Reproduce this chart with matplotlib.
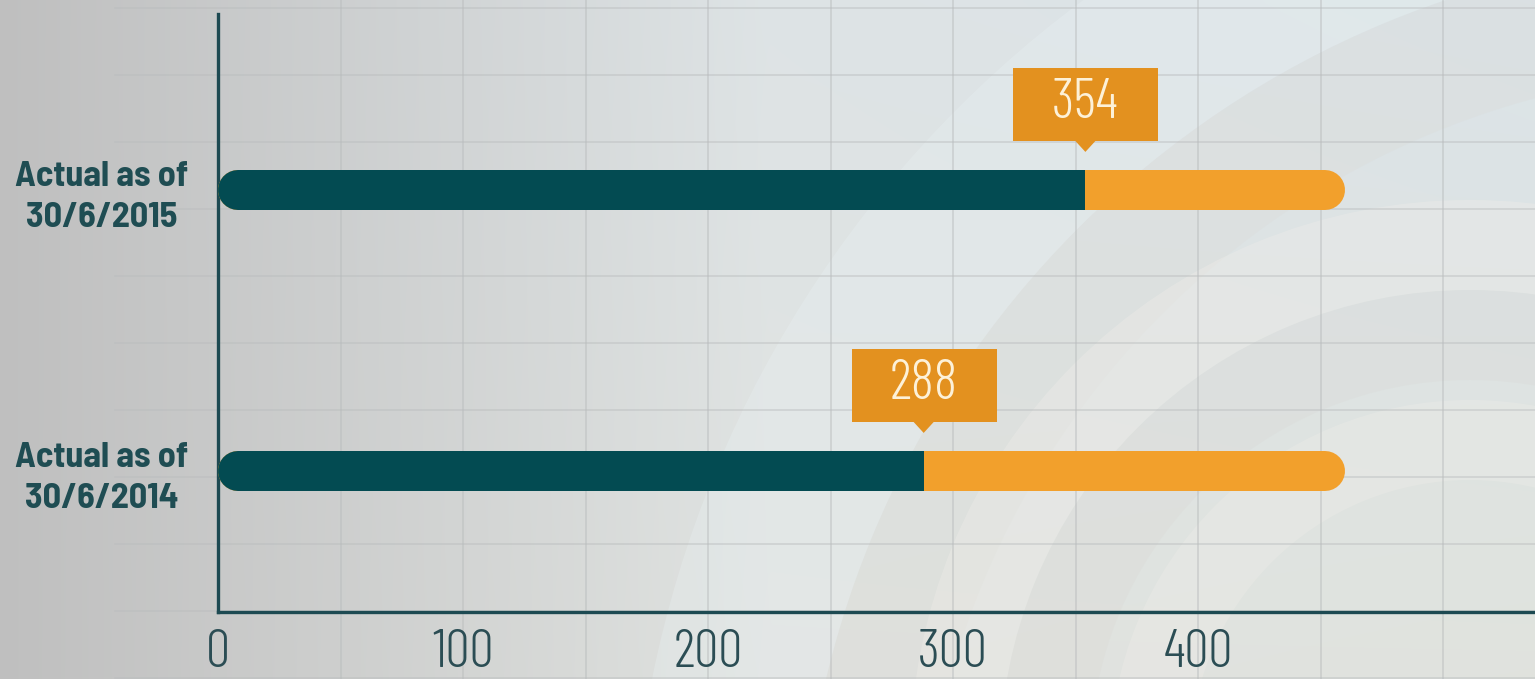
import numpy as np
import matplotlib.pyplot as plt
from matplotlib.patches import Rectangle, Polygon, Wedge
from matplotlib.transforms import Affine2D, ScaledTranslation

# rows, top to bottom
labels = ['Actual as of\n30/6/2015', 'Actual as of\n30/6/2014']
rows = [1, 0]
actual = [354, 288]
target = [460, 460]
xticks = [0, 100, 200, 300, 400]

teal = '#034b52'
orange = '#f2a02c'
box_orange = '#e3911f'
ink = '#1f4d53'
light_font = ['Barlow Condensed', 'DejaVu Sans']
bold_font = ['Barlow Semi Condensed', 'DejaVu Sans']

W, H = 1535, 679
fig = plt.figure(figsize=(W / 100, H / 100), dpi=100)

############ background: soft gray gradient with pale arcs ############
bg = fig.add_axes([0, 0, 1, 1], zorder=0)
bg.set_xlim(0, W)
bg.set_ylim(H, 0)
bg.axis('off')

gx, gy = np.meshgrid(np.linspace(0, 1, 400), np.linspace(0, 1, 200))
t = np.clip(gx / 0.5, 0, 1)
r = 0.75 + (0.88 - 0.75) * t - 0.02 * gx * (1 - gy)
g = 0.75 + (0.89 - 0.75) * t + 0.005 * gx * (1 - gy)
b = 0.75 + (0.89 - 0.75) * t + 0.02 * gx * (1 - gy) - 0.02 * gx * gy
bg.imshow(np.dstack([r, g, b]).clip(0, 1), extent=[0, W, H, 0], aspect='auto',
          interpolation='bicubic')

# big decorative rings
bg.add_patch(Wedge((1750, 900), 1120, 0, 360, width=170, color='#eaf2f4', alpha=0.3, lw=0))
bg.add_patch(Wedge((1750, 900), 950, 0, 360, width=120, color='#d8d4d0', alpha=0.2, lw=0))
bg.add_patch(Wedge((1470, 760), 560, 0, 360, width=90, color='#f1eeea', alpha=0.35, lw=0))
bg.add_patch(Wedge((1470, 760), 360, 0, 360, width=80, color='#f1eeea', alpha=0.3, lw=0))
bg.add_patch(Wedge((1470, 760), 470, 0, 360, width=90, color='#d6d3cf', alpha=0.2, lw=0))

# faint horizontal grid
for yy in range(8, H, 67):
    bg.plot([115, W], [yy, yy], color='#b9bcbd', lw=1.2, alpha=0.5)

############################ main chart ###############################
ax = fig.add_axes([218 / W, 67 / H, 1 - 218 / W, (612 - 14) / H], zorder=1)
ax.patch.set_alpha(0)
ax.set_xlim(0, 537.5)
ax.set_ylim(-0.502, 1.626)

for s in ['top', 'right']:
    ax.spines[s].set_visible(False)
for s in ['left', 'bottom']:
    ax.spines[s].set_color('#1d4a52')
    ax.spines[s].set_linewidth(2.4)

# vertical grid every 50, running past the axes
for v in range(50, 551, 50):
    ax.axvline(v, ymin=-0.15, ymax=1.05, clip_on=False, color='#b9bcbd',
               lw=1.2, alpha=0.55, zorder=0)

ax.set_xticks(xticks)
ax.set_xticklabels([str(v) for v in xticks], family=light_font, fontweight=300,
                   fontsize=39, color='#2b4d54')
ax.tick_params(axis='x', length=0, pad=12)
ax.set_yticks(rows)
ax.set_yticklabels(labels, family=bold_font, fontweight='bold', fontsize=26,
                   color=ink, ha='center', linespacing=1.35)
ax.tick_params(axis='y', length=0, pad=84)

# bar thickness in pixels -> data units for the rounded caps
bar_px = 40
lw_pt = bar_px * 72 / fig.dpi
px_per_unit = ax.get_window_extent().width / (ax.get_xlim()[1] - ax.get_xlim()[0])
cap = bar_px / 2 / px_per_unit

for y, val, tot in zip(rows, actual, target):
    ax.plot([cap, tot - cap], [y, y], color=orange, lw=lw_pt,
            solid_capstyle='round', zorder=3)
    ax.plot([cap, val - cap], [y, y], color=teal, lw=lw_pt,
            solid_capstyle='round', zorder=4)
    ax.plot([val - 2 * cap, val], [y, y], color=teal, lw=lw_pt,
            solid_capstyle='butt', zorder=4)

    # value callout above the end of the dark part
    tr = Affine2D() + ScaledTranslation(val, y, ax.transData)
    ax.add_patch(Rectangle((-72, 49), 145, 73, transform=tr, color=box_orange,
                           lw=0, zorder=5, clip_on=False))
    ax.add_patch(Polygon([(-11, 50), (11, 50), (0, 38)], closed=True, transform=tr,
                         color=box_orange, lw=0, zorder=5, clip_on=False))
    ax.text(0, 86, str(val), transform=tr, ha='center', va='center',
            family=light_font, fontweight=300, fontsize=40, color='#fdf1d8', zorder=6)

fig.savefig('out.png', dpi=100)
